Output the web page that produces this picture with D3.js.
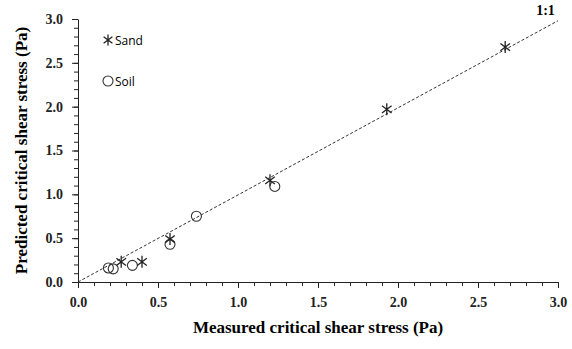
<!DOCTYPE html>
<html>
<head>
<meta charset="utf-8">
<script src="https://cdn.jsdelivr.net/npm/d3@7"></script>
<style>
  body { margin: 0; background: #fff; }
</style>
</head>
<body>
<svg id="chart" width="572" height="349"></svg>
<script>
// measured vs predicted critical shear stress (Pa)
const sandMeasured = [0.27, 0.40, 0.575, 1.20, 1.93, 2.67];
const sandPredicted = [0.23, 0.23, 0.49, 1.16, 1.97, 2.68];
const soilMeasured = [0.19, 0.22, 0.34, 0.575, 0.74, 1.23];
const soilPredicted = [0.16, 0.15, 0.19, 0.43, 0.75, 1.09];
const tickValues = [0, 0.5, 1.0, 1.5, 2.0, 2.5, 3.0];
const minorTicks = d3.range(0, 3.01, 0.1);

const svg = d3.select("svg#chart");
const margin = {left: 78, top: 19};

const x = d3.scaleLinear().domain([0, 3]).range([margin.left, margin.left + 480]);
const y = d3.scaleLinear().domain([0, 3]).range([margin.top + 263, margin.top]);

// minor ticks
svg.append("g")
    .attr("transform", `translate(0,${y(0)})`)
    .call(d3.axisBottom(x).tickValues(minorTicks).tickSize(4).tickFormat(""))
    .call(g => g.select(".domain").remove());
svg.append("g")
    .attr("transform", `translate(${x(0)},0)`)
    .call(d3.axisLeft(y).tickValues(minorTicks).tickSize(4).tickFormat(""))
    .call(g => g.select(".domain").remove());

// major axes
svg.append("g")
    .attr("class", "xAxis")
    .attr("transform", `translate(0,${y(0)})`)
    .call(d3.axisBottom(x).tickValues(tickValues).tickSize(6).tickSizeOuter(0).tickPadding(9).tickFormat(d3.format(".1f")));
svg.append("g")
    .attr("class", "yAxis")
    .attr("transform", `translate(${x(0)},0)`)
    .call(d3.axisLeft(y).tickValues(tickValues).tickSize(6).tickSizeOuter(0).tickPadding(9).tickFormat(d3.format(".1f")));

svg.selectAll(".domain, .tick line").attr("stroke", "#222");
svg.selectAll(".xAxis text, .yAxis text")
    .style("font-family", "Liberation Serif, serif")
    .style("font-weight", "bold")
    .style("font-size", "14px")
    .attr("fill", "#222");

// 1:1 line
svg.append("line")
    .attr("x1", x(0)).attr("y1", y(0))
    .attr("x2", x(3)).attr("y2", y(2.98))
    .attr("stroke", "#333")
    .attr("stroke-width", 1)
    .attr("stroke-dasharray", "3,2");

svg.append("text")
    .attr("x", x(2.98)).attr("y", y(2.98) - 6)
    .attr("text-anchor", "end")
    .style("font-family", "Liberation Serif, serif")
    .style("font-weight", "bold")
    .style("font-size", "14px")
    .text("1:1");

// asterisk: vertical bar plus X
function asterisk(r) {
    const d = r * 0.8;
    return `M0,${-r}L0,${r}M${-d},${-d * 0.75}L${d},${d * 0.75}M${-d},${d * 0.75}L${d},${-d * 0.75}`;
}

const sand = sandMeasured.map((m, i) => ({m: m, p: sandPredicted[i]}));
const soil = soilMeasured.map((m, i) => ({m: m, p: soilPredicted[i]}));

svg.selectAll("circle.soil")
    .data(soil)
    .join("circle")
    .attr("class", "soil")
    .attr("cx", d => x(d.m))
    .attr("cy", d => y(d.p))
    .attr("r", 5)
    .attr("fill", "none")
    .attr("stroke", "#333")
    .attr("stroke-width", 1.1);

svg.selectAll("path.sand")
    .data(sand)
    .join("path")
    .attr("class", "sand")
    .attr("transform", d => `translate(${x(d.m)},${y(d.p)})`)
    .attr("d", asterisk(6))
    .attr("stroke", "#222")
    .attr("stroke-width", 1.3);

// legend
const legend = svg.append("g").attr("id", "legend");
legend.append("path")
    .attr("transform", "translate(108,40)")
    .attr("d", asterisk(5.5))
    .attr("stroke", "#222")
    .attr("stroke-width", 1.3);
legend.append("text")
    .attr("x", 115).attr("y", 45)
    .style("font-family", "Open Sans, sans-serif")
    .style("font-size", "12px")
    .text("Sand");
legend.append("circle")
    .attr("cx", 108).attr("cy", 81).attr("r", 5)
    .attr("fill", "none").attr("stroke", "#333").attr("stroke-width", 1.1);
legend.append("text")
    .attr("x", 115).attr("y", 86)
    .style("font-family", "Open Sans, sans-serif")
    .style("font-size", "12px")
    .text("Soil");

// axis titles
svg.append("text")
    .attr("x", x(1.5)).attr("y", 333)
    .attr("text-anchor", "middle")
    .style("font-family", "Liberation Serif, serif")
    .style("font-weight", "bold")
    .style("font-size", "17px")
    .text("Measured critical shear stress (Pa)");

svg.append("text")
    .attr("transform", `translate(27,${y(1.5)}) rotate(-90)`)
    .attr("text-anchor", "middle")
    .style("font-family", "Liberation Serif, serif")
    .style("font-weight", "bold")
    .style("font-size", "17px")
    .text("Predicted critical shear stress (Pa)");
</script>
</body>
</html>
